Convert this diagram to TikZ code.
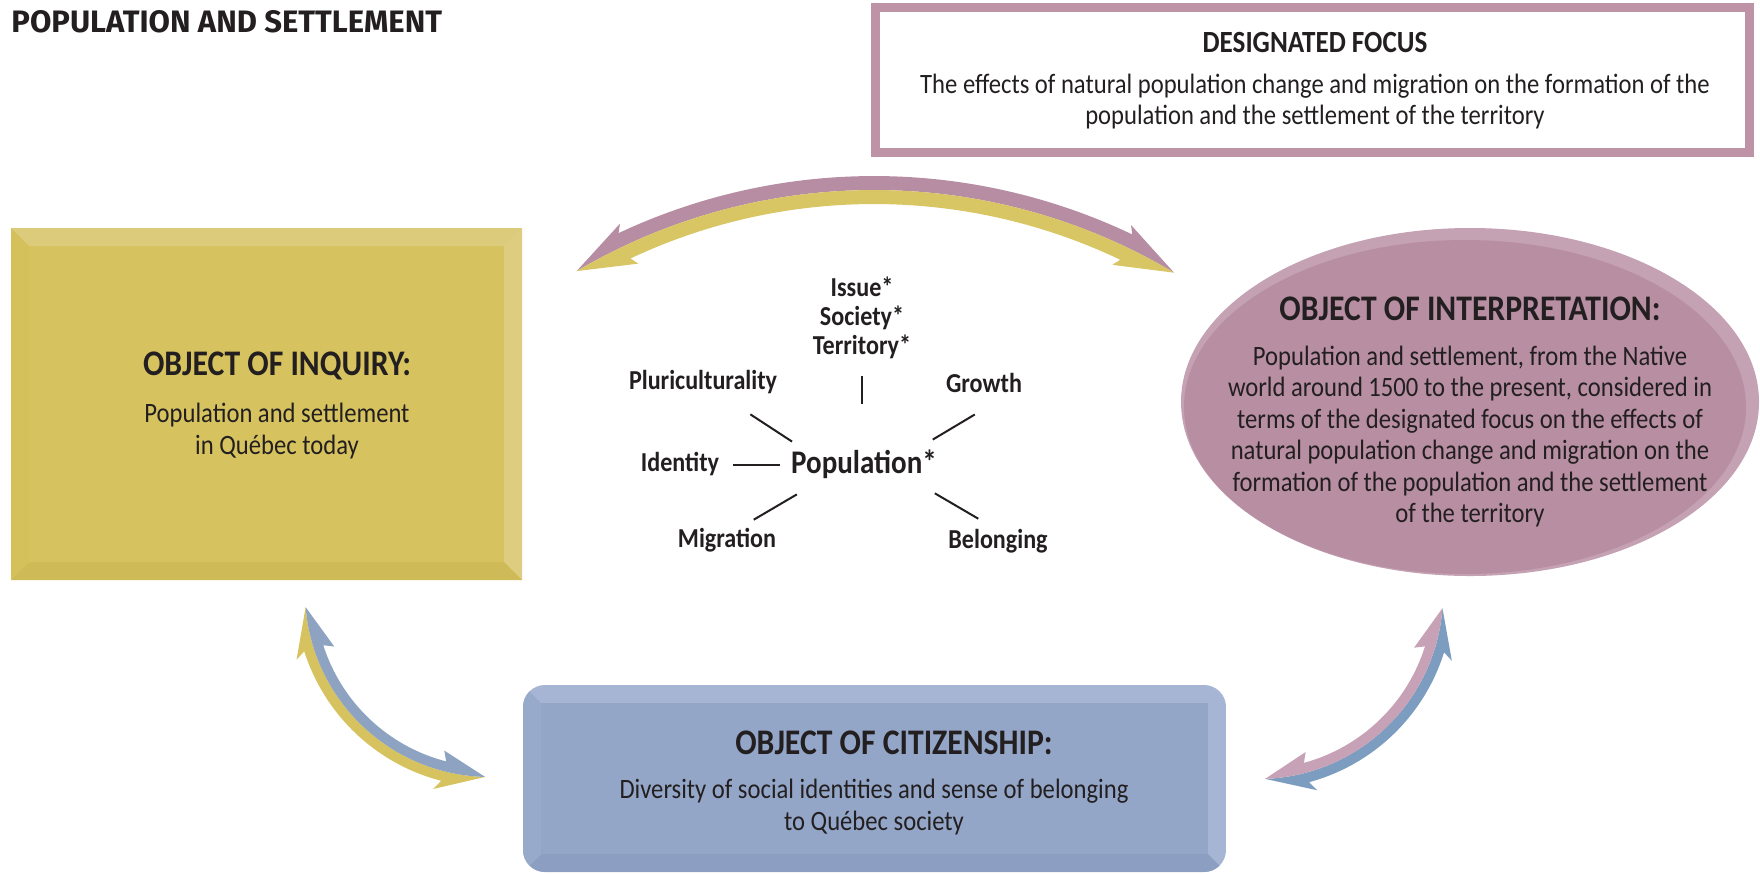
\documentclass[tikz,border=0pt]{standalone}
\usepackage{fontspec}
\setmainfont{Carlito}[FakeStretch=0.88]
\newfontfamily\titlefont{Fira Sans}
\usepackage{tikz}

\definecolor{ink}{HTML}{231F20}
\definecolor{focusrim}{HTML}{BE93A6}
\definecolor{inqface}{HTML}{D6C35F}
\definecolor{inqtop}{HTML}{DCCB7A}
\definecolor{inqright}{HTML}{DECD81}
\definecolor{inqbottom}{HTML}{CEBB57}
\definecolor{inqleft}{HTML}{D4C15C}
\definecolor{intrim}{HTML}{C4A1B3}
\definecolor{intface}{HTML}{B78EA2}
\definecolor{citface}{HTML}{93A6C8}
\definecolor{citlight}{HTML}{A5B5D3}
\definecolor{citleft}{HTML}{98AACA}
\definecolor{citbottom}{HTML}{8C9FC2}
\definecolor{arcpink}{HTML}{B78DA3}
\definecolor{arcyellow}{HTML}{D8C665}
\definecolor{lowyellow}{HTML}{D6C35F}
\definecolor{lowblue}{HTML}{8EA3C1}
\definecolor{lowpink}{HTML}{C7A1B6}
\definecolor{lowblue2}{HTML}{7C9DC0}

\begin{document}
\begin{tikzpicture}[x=0.5pt,y=-0.5pt,
            every node/.style={text=ink, inner sep=0pt},
            head/.style={font=\fontsize{18}{21}\selectfont\bfseries},
            body/.style={font=\fontsize{14}{15.75}\selectfont, align=center},
            word/.style={font=\fontsize{13.7}{14.5}\selectfont\bfseries, text height=9pt, text depth=3pt},
            spoke/.style={draw=ink, line width=1pt}]
        \useasboundingbox (0,0) rectangle (1760,874);

        \node[anchor=west, font=\titlefont\fontsize{15.5}{18}\selectfont\bfseries] (title) at (11,22) {POPULATION AND SETTLEMENT};

        \node[draw=focusrim, line width=4.5pt, minimum width=437pt, minimum height=72.5pt] (focus) at (1312.5,80) {};
        \node[font=\fontsize{15.4}{18}\selectfont\bfseries] (focushead) at (1315,43) {DESIGNATED FOCUS};
        \node[body] (focustext) at (1315,101.5) {The effects of natural population change and migration on the formation of the\\population and the settlement of the territory};

        \begin{scope}[shift={(874,776)}]
        \fill[arcpink] (-120.5:586) -- (-114.7:608) -- (-115.2:600) arc[start angle=-115.2, end angle=-64.5, radius=600] -- (-65:608) -- (-59.2:586) arc[start angle=-59.2, end angle=-120.5, radius=586] -- cycle;
        \fill[arcyellow] (-120.5:586) -- (-114.7:564) -- (-115.2:572) arc[start angle=-115.2, end angle=-64.5, radius=572] -- (-65:564) -- (-59.2:586) arc[start angle=-59.2, end angle=-120.5, radius=586] -- cycle;
        \end{scope}

        \begin{scope}[shift={(490,592)}]
        \fill[lowyellow] (175.3:185) -- (160.7:205) -- (162.3:195) arc[start angle=162.3, end angle=104.5, radius=195] -- (106.1:205) -- (91.5:185) arc[start angle=91.5, end angle=175.3, radius=185] -- cycle;
        \fill[lowblue] (175.3:185) -- (160.7:165) -- (162.3:175) arc[start angle=162.3, end angle=104.5, radius=175] -- (106.1:165) -- (91.5:185) arc[start angle=91.5, end angle=175.3, radius=185] -- cycle;
        \end{scope}

        \begin{scope}[shift={(1258,594)}]
        \fill[lowblue2] (4.4:185) -- (19:205) -- (17.4:195) arc[start angle=17.4, end angle=74.8, radius=195] -- (73.2:205) -- (87.8:185) arc[start angle=87.8, end angle=4.4, radius=185] -- cycle;
        \fill[lowpink] (4.4:185) -- (19:165) -- (17.4:175) arc[start angle=17.4, end angle=74.8, radius=175] -- (73.2:165) -- (87.8:185) arc[start angle=87.8, end angle=4.4, radius=185] -- cycle;
        \end{scope}

        \fill[inqface] (11,228) rectangle (522,580);
        \fill[inqtop] (11,228) -- (522,228) -- (504,246) -- (29,246) -- cycle;
        \fill[inqright] (522,228) -- (522,580) -- (504,562) -- (504,246) -- cycle;
        \fill[inqbottom] (11,580) -- (522,580) -- (504,562) -- (29,562) -- cycle;
        \fill[inqleft] (11,228) -- (29,246) -- (29,562) -- (11,580) -- cycle;
        \node[head] (inqhead) at (277,366) {OBJECT OF INQUIRY:};
        \node[body] (inqtext) at (277,431) {Population and settlement\\in Québec today};

        \fill[intrim] (1470,402) ellipse[x radius=289, y radius=174];
        \fill[intface] (1465,407) ellipse[x radius=281, y radius=167];
        \node[head] (inthead) at (1470,309) {OBJECT OF INTERPRETATION:};
        \node[body] (inttext) at (1470,436.5) {Population and settlement, from the Native\\world around 1500 to the present, considered in\\terms of the designated focus on the effects of\\natural population change and migration on the\\formation of the population and the settlement\\of the territory};

        \begin{scope}
        \clip[rounded corners=11pt] (523,685) rectangle (1226,872);
        \fill[citlight] (523,685) rectangle (1226,872);
        \fill[citbottom] (523,872) -- (541,854) -- (1208,854) -- (1226,872) -- cycle;
        \fill[citleft] (523,685) -- (541,703) -- (541,854) -- (523,872) -- cycle;
        \fill[citface] (541,703) rectangle (1208,854);
        \end{scope}
        \node[head] (cithead) at (894,743) {OBJECT OF CITIZENSHIP:};
        \node[body] (cittext) at (874,807) {Diversity of social identities and sense of belonging\\to Québec society};

        \node[font=\fontsize{16.5}{19}\selectfont\bfseries, text height=12pt, text depth=4pt] (pop) at (864,465) {Population*};
        \node[font=\fontsize{13.7}{14.5}\selectfont\bfseries, align=center] (terms) at (862,318) {Issue*\\Society*\\Territory*};
        \node[word] (pluri) at (703,383) {Pluriculturality};
        \node[word] (growth) at (984,386) {Growth};
        \node[word] (identity) at (680,465) {Identity};
        \node[word] (migration) at (727,541) {Migration};
        \node[word] (belonging) at (998,542) {Belonging};

        \draw[spoke, shorten <=8.5pt, shorten >=22.5pt] (terms.south) -- (terms.south |- pop.north);
        \draw[spoke, shorten <=6.4pt, shorten >=17.3pt] (pop.165) -- (pluri.-34);
        \draw[spoke, shorten <=8.8pt, shorten >=15.7pt] (pop.17) -- (growth.-35);
        \draw[spoke, shorten <=5.5pt, shorten >=7pt] (pop.west) -- (identity.east);
        \draw[spoke, shorten <=12.8pt, shorten >=8.8pt] (pop.200) -- (migration.47);
        \draw[spoke, shorten <=11.8pt, shorten >=10.8pt] (pop.-18) -- (belonging.95);
\end{tikzpicture}
\end{document}
